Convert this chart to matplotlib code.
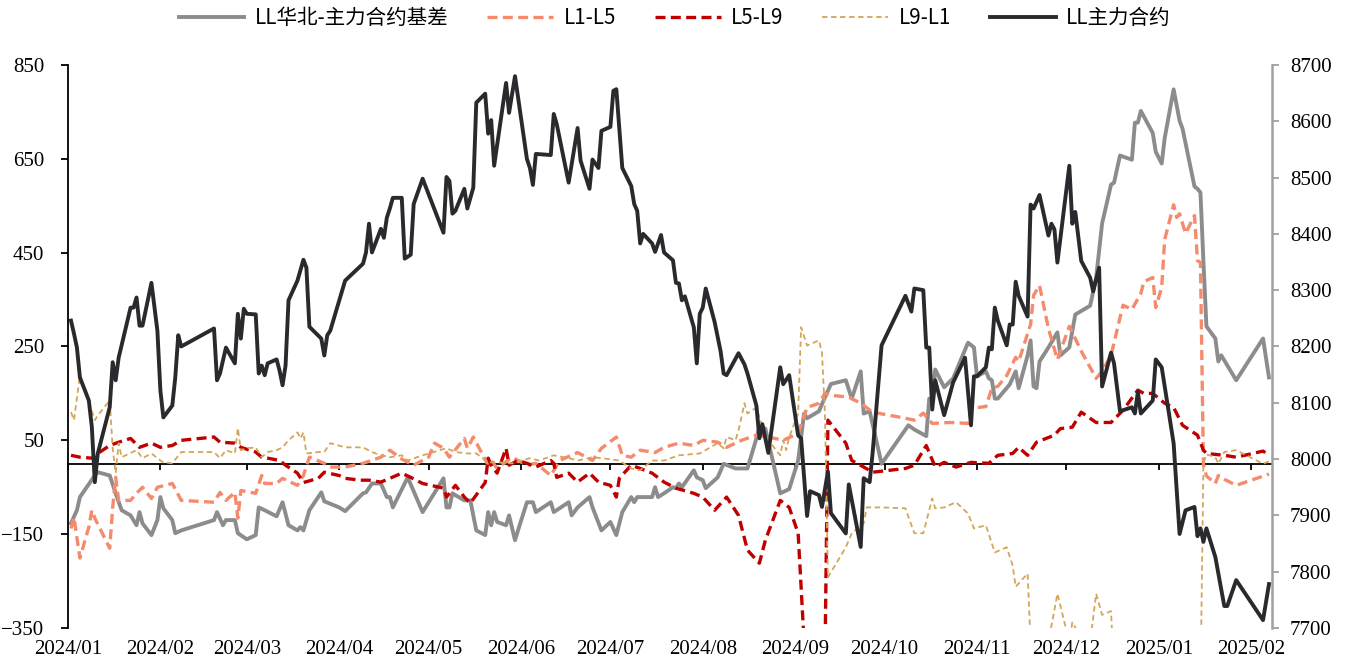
import matplotlib
matplotlib.use('Agg')
import matplotlib.pyplot as plt
import matplotlib.dates as mdates
import pandas as pd

# LL华北-主力合约基差 (左轴)
basis_dates = [
    '2024-01-02', '2024-01-04', '2024-01-05', '2024-01-10', '2024-01-11', '2024-01-15', '2024-01-17',
    '2024-01-19', '2024-01-22', '2024-01-24', '2024-01-25', '2024-01-26', '2024-01-29', '2024-01-31',
    '2024-02-01', '2024-02-02', '2024-02-05', '2024-02-06', '2024-02-08', '2024-02-19', '2024-02-20',
    '2024-02-22', '2024-02-23', '2024-02-26', '2024-02-27', '2024-03-01', '2024-03-04', '2024-03-05',
    '2024-03-07', '2024-03-11', '2024-03-13', '2024-03-15', '2024-03-18', '2024-03-19', '2024-03-20',
    '2024-03-22', '2024-03-26', '2024-03-27', '2024-04-01', '2024-04-03', '2024-04-09', '2024-04-10',
    '2024-04-12', '2024-04-15', '2024-04-17', '2024-04-18', '2024-04-19', '2024-04-24', '2024-04-29',
    '2024-05-06', '2024-05-07', '2024-05-08', '2024-05-09', '2024-05-10', '2024-05-13', '2024-05-15',
    '2024-05-17', '2024-05-20', '2024-05-21', '2024-05-22', '2024-05-23', '2024-05-24', '2024-05-27',
    '2024-05-28', '2024-05-30', '2024-05-31', '2024-06-03', '2024-06-05', '2024-06-06', '2024-06-11',
    '2024-06-12', '2024-06-17', '2024-06-18', '2024-06-20', '2024-06-24', '2024-06-25', '2024-06-28',
    '2024-07-01', '2024-07-03', '2024-07-05', '2024-07-08', '2024-07-09', '2024-07-10', '2024-07-15',
    '2024-07-16', '2024-07-17', '2024-07-19', '2024-07-22', '2024-07-23', '2024-07-24', '2024-07-25',
    '2024-07-29', '2024-07-30', '2024-08-01', '2024-08-02', '2024-08-06', '2024-08-08', '2024-08-12',
    '2024-08-16', '2024-08-19', '2024-08-20', '2024-08-22', '2024-08-27', '2024-08-30', '2024-09-02',
    '2024-09-04', '2024-09-05', '2024-09-09', '2024-09-10', '2024-09-13', '2024-09-18', '2024-09-20',
    '2024-09-23', '2024-09-24', '2024-09-26', '2024-09-30', '2024-10-09', '2024-10-11', '2024-10-15',
    '2024-10-16', '2024-10-17', '2024-10-18', '2024-10-21', '2024-10-24', '2024-10-29', '2024-10-31',
    '2024-11-01', '2024-11-04', '2024-11-05', '2024-11-06', '2024-11-07', '2024-11-08', '2024-11-12',
    '2024-11-14', '2024-11-15', '2024-11-18', '2024-11-19', '2024-11-20', '2024-11-21', '2024-11-22',
    '2024-11-25', '2024-11-28', '2024-11-29', '2024-12-02', '2024-12-04', '2024-12-09', '2024-12-11',
    '2024-12-13', '2024-12-16', '2024-12-17', '2024-12-19', '2024-12-23', '2024-12-24', '2024-12-25',
    '2024-12-26', '2024-12-30', '2024-12-31', '2025-01-02', '2025-01-03', '2025-01-06', '2025-01-08',
    '2025-01-09', '2025-01-13', '2025-01-14', '2025-01-15', '2025-01-16', '2025-01-17', '2025-01-20',
    '2025-01-21', '2025-01-22', '2025-01-27', '2025-02-05', '2025-02-07']
basis_vals = [
    -127, -99, -71, -25, -18, -25, -63, -99, -110, -131, -103, -127, -152, -120,
    -71, -95, -120, -148, -142, -120, -103, -131, -120, -120, -148, -161, -152, -93,
    -99, -112, -82, -131, -142, -135, -142, -99, -61, -80, -93, -101, -63, -61,
    -42, -42, -71, -71, -93, -29, -103, -31, -93, -93, -63, -67, -78, -78,
    -142, -152, -103, -131, -103, -124, -131, -110, -163, -142, -82, -82, -103, -82,
    -103, -82, -110, -93, -71, -93, -142, -124, -152, -103, -71, -82, -71, -71,
    -50, -71, -63, -50, -52, -42, -50, -14, -29, -35, -52, -29, 0, -10,
    -10, 54, 78, 75, -63, -54, 7, 107, 97, 112, 127, 170, 178, 139,
    197, 107, 112, 0, 82, 73, 59, 139, 135, 201, 163, 182, 258, 248,
    186, 197, 182, 178, 139, 139, 169, 197, 161, 231, 263, 165, 161, 218,
    248, 280, 231, 248, 318, 337, 397, 512, 595, 599, 657, 648, 727, 727,
    752, 705, 665, 640, 694, 798, 731, 714, 591, 586, 578, 431, 293, 267,
    218, 231, 178, 267, 184]

# L1-L5 (左轴)
l15_dates = [
    '2024-01-02', '2024-01-03', '2024-01-05', '2024-01-08', '2024-01-09', '2024-01-10', '2024-01-15',
    '2024-01-16', '2024-01-17', '2024-01-18', '2024-01-22', '2024-01-24', '2024-01-26', '2024-01-29',
    '2024-01-31', '2024-02-05', '2024-02-08', '2024-02-19', '2024-02-21', '2024-02-23', '2024-02-26',
    '2024-02-27', '2024-02-28', '2024-03-04', '2024-03-06', '2024-03-07', '2024-03-11', '2024-03-13',
    '2024-03-18', '2024-03-20', '2024-03-22', '2024-03-27', '2024-03-29', '2024-04-03', '2024-04-09',
    '2024-04-15', '2024-04-18', '2024-04-22', '2024-04-26', '2024-05-01', '2024-05-03', '2024-05-06',
    '2024-05-08', '2024-05-13', '2024-05-14', '2024-05-16', '2024-05-21', '2024-05-22', '2024-05-24',
    '2024-05-29', '2024-06-03', '2024-06-06', '2024-06-11', '2024-06-14', '2024-06-20', '2024-06-25',
    '2024-06-28', '2024-07-03', '2024-07-05', '2024-07-08', '2024-07-11', '2024-07-16', '2024-07-19',
    '2024-07-24', '2024-07-29', '2024-08-01', '2024-08-06', '2024-08-09', '2024-08-14', '2024-08-19',
    '2024-08-23', '2024-08-28', '2024-09-02', '2024-09-05', '2024-09-09', '2024-09-11', '2024-09-13',
    '2024-09-19', '2024-09-23', '2024-09-27', '2024-10-08', '2024-10-11', '2024-10-14', '2024-10-17',
    '2024-10-23', '2024-10-29', '2024-10-30', '2024-11-04', '2024-11-06', '2024-11-08', '2024-11-11',
    '2024-11-14', '2024-11-15', '2024-11-19', '2024-11-20', '2024-11-22', '2024-11-25', '2024-11-28',
    '2024-12-02', '2024-12-03', '2024-12-06', '2024-12-11', '2024-12-13', '2024-12-16', '2024-12-20',
    '2024-12-23', '2024-12-26', '2024-12-27', '2024-12-30', '2024-12-31', '2025-01-02', '2025-01-03',
    '2025-01-06', '2025-01-07', '2025-01-08', '2025-01-10', '2025-01-13', '2025-01-14', '2025-01-15',
    '2025-01-16', '2025-01-17', '2025-01-20', '2025-01-21', '2025-01-23', '2025-01-27', '2025-02-07']
l15_vals = [
    -138, -114, -201, -135, -99, -116, -180, -93, -29, -78, -78, -63, -50, -74,
    -50, -42, -78, -82, -61, -78, -61, -116, -57, -63, -25, -42, -42, -31,
    -46, -25, 14, 1, -7, -7, 1, 14, 29, 10, -3, 14, 44, 33,
    14, 54, 33, 57, -3, 7, -10, 14, -3, 1, -25, 7, 24, 7,
    33, 57, 18, 14, 29, 24, 35, 44, 39, 50, 46, 35, 50, 61,
    57, 50, 65, 120, 129, 150, 146, 142, 129, 110, 97, 93, 108, 86,
    88, 86, 118, 122, 161, 165, 188, 227, 218, 297, 359, 380, 288, 222,
    293, 280, 240, 182, 197, 231, 338, 329, 363, 388, 397, 333, 376, 478,
    552, 525, 533, 491, 529, 433, 429, -1, -26, -42, -25, -33, -46, -22]

# L5-L9 (左轴)
l59_dates = [
    '2024-01-02', '2024-01-05', '2024-01-09', '2024-01-11', '2024-01-15', '2024-01-18', '2024-01-22',
    '2024-01-25', '2024-01-29', '2024-02-01', '2024-02-05', '2024-02-08', '2024-02-19', '2024-02-21',
    '2024-02-26', '2024-02-28', '2024-03-04', '2024-03-06', '2024-03-08', '2024-03-12', '2024-03-14',
    '2024-03-18', '2024-03-20', '2024-03-25', '2024-03-27', '2024-04-01', '2024-04-03', '2024-04-08',
    '2024-04-11', '2024-04-15', '2024-04-18', '2024-04-22', '2024-04-25', '2024-04-29', '2024-05-06',
    '2024-05-07', '2024-05-10', '2024-05-13', '2024-05-15', '2024-05-20', '2024-05-21', '2024-05-22',
    '2024-05-24', '2024-05-27', '2024-05-28', '2024-05-31', '2024-06-03', '2024-06-06', '2024-06-11',
    '2024-06-12', '2024-06-13', '2024-06-17', '2024-06-20', '2024-06-24', '2024-06-27', '2024-07-01',
    '2024-07-03', '2024-07-04', '2024-07-08', '2024-07-11', '2024-07-15', '2024-07-19', '2024-07-23',
    '2024-07-29', '2024-08-01', '2024-08-05', '2024-08-09', '2024-08-13', '2024-08-16', '2024-08-20',
    '2024-08-22', '2024-08-27', '2024-08-30', '2024-09-02', '2024-09-03', '2024-09-04', '2024-09-05',
    '2024-09-09', '2024-09-11', '2024-09-12', '2024-09-18', '2024-09-20', '2024-09-24', '2024-09-27',
    '2024-10-08', '2024-10-11', '2024-10-15', '2024-10-18', '2024-10-21', '2024-10-25', '2024-10-30',
    '2024-11-05', '2024-11-08', '2024-11-13', '2024-11-15', '2024-11-18', '2024-11-21', '2024-11-27',
    '2024-11-29', '2024-12-03', '2024-12-06', '2024-12-11', '2024-12-16', '2024-12-20', '2024-12-25',
    '2024-12-27', '2024-12-30', '2025-01-03', '2025-01-06', '2025-01-09', '2025-01-14', '2025-01-16',
    '2025-01-17', '2025-01-23', '2025-01-27', '2025-02-05', '2025-02-07']
l59_vals = [
    18, 14, 12, 22, 39, 46, 54, 35, 44, 35, 39, 50, 57, 46,
    44, 35, 25, 14, 12, 7, -3, -20, -40, -31, -18, -25, -31, -35,
    -35, -39, -31, -20, -29, -42, -52, -71, -46, -71, -84, -40, 12, -3,
    -20, 33, -3, 7, 1, -7, 7, 1, -29, -20, -39, -20, -39, -46,
    -71, -31, -3, -10, -20, -39, -52, -63, -71, -99, -71, -110, -184, -212,
    -163, -78, -93, -148, -263, -380, -520, -520, -420, 93, 44, 7, -7, -18,
    -10, -3, 39, -7, 3, -7, 3, 1, 18, 22, 35, 18, 46, 61,
    75, 78, 110, 88, 88, 114, 157, 150, 150, 129, 120, 82, 61, 29,
    22, 18, 14, 27, 18]

# L9-L1 (左轴)
l91_dates = [
    '2024-01-02', '2024-01-03', '2024-01-05', '2024-01-08', '2024-01-10', '2024-01-11', '2024-01-15',
    '2024-01-16', '2024-01-17', '2024-01-18', '2024-01-19', '2024-01-24', '2024-01-26', '2024-01-29',
    '2024-02-01', '2024-02-02', '2024-02-05', '2024-02-08', '2024-02-19', '2024-02-21', '2024-02-23',
    '2024-02-26', '2024-02-27', '2024-02-28', '2024-03-01', '2024-03-04', '2024-03-06', '2024-03-08',
    '2024-03-11', '2024-03-13', '2024-03-15', '2024-03-18', '2024-03-19', '2024-03-20', '2024-03-21',
    '2024-03-25', '2024-03-27', '2024-03-29', '2024-04-03', '2024-04-09', '2024-04-12', '2024-04-15',
    '2024-04-18', '2024-04-22', '2024-04-24', '2024-04-29', '2024-05-07', '2024-05-10', '2024-05-14',
    '2024-05-17', '2024-05-21', '2024-05-24', '2024-05-29', '2024-06-04', '2024-06-07', '2024-06-12',
    '2024-06-17', '2024-06-20', '2024-06-25', '2024-06-28', '2024-07-04', '2024-07-08', '2024-07-11',
    '2024-07-15', '2024-07-19', '2024-07-24', '2024-07-31', '2024-08-06', '2024-08-08', '2024-08-09',
    '2024-08-12', '2024-08-13', '2024-08-15', '2024-08-16', '2024-08-19', '2024-08-21', '2024-08-23',
    '2024-08-27', '2024-08-28', '2024-08-29', '2024-08-30', '2024-09-02', '2024-09-03', '2024-09-05',
    '2024-09-09', '2024-09-10', '2024-09-11', '2024-09-12', '2024-09-18', '2024-09-20', '2024-09-24',
    '2024-09-25', '2024-09-30', '2024-10-08', '2024-10-11', '2024-10-14', '2024-10-17', '2024-10-18',
    '2024-10-21', '2024-10-25', '2024-10-29', '2024-10-31', '2024-11-04', '2024-11-07', '2024-11-11',
    '2024-11-13', '2024-11-14', '2024-11-18', '2024-11-19', '2024-11-21', '2024-11-25', '2024-11-28',
    '2024-12-02', '2024-12-03', '2024-12-05', '2024-12-09', '2024-12-11', '2024-12-13', '2024-12-16',
    '2024-12-17', '2024-12-18', '2024-12-31', '2025-01-15', '2025-01-16', '2025-01-17', '2025-01-20',
    '2025-01-21', '2025-01-23', '2025-01-27', '2025-02-05', '2025-02-07']
l91_vals = [
    110, 93, 188, 131, 93, 103, 135, 33, -20, 44, 14, 29, 12, 22,
    7, 3, 1, 25, 25, 12, 29, 22, 76, 29, 33, 35, 14, 25,
    29, 35, 50, 67, 54, 67, 22, 25, 25, 44, 35, 35, 25, 18,
    14, 18, 7, 18, 33, 25, 22, 22, 3, 3, 1, 12, 7, 18,
    12, 7, 14, 12, 7, -10, -14, 7, 7, 18, 22, 44, 33, 57,
    50, 71, 129, 107, 120, 78, 50, 18, 50, 29, 57, 107, 291, 252,
    263, 237, 107, -242, -178, -148, -127, -93, -93, -95, -148, -148, -74, -95,
    -93, -82, -106, -138, -131, -189, -178, -217, -262, -234, -380, -400, -380, -277,
    -380, -338, -360, -380, -277, -322, -314, -450, -500, -520, -480, 0, 20, 14,
    0, 25, 29, 0, 5]

# LL主力合约 (右轴)
main_dates = [
    '2024-01-02', '2024-01-03', '2024-01-04', '2024-01-05', '2024-01-08', '2024-01-09', '2024-01-10',
    '2024-01-11', '2024-01-15', '2024-01-16', '2024-01-17', '2024-01-18', '2024-01-22', '2024-01-23',
    '2024-01-24', '2024-01-25', '2024-01-26', '2024-01-29', '2024-01-31', '2024-02-01', '2024-02-02',
    '2024-02-05', '2024-02-06', '2024-02-07', '2024-02-08', '2024-02-19', '2024-02-20', '2024-02-21',
    '2024-02-23', '2024-02-26', '2024-02-27', '2024-02-28', '2024-02-29', '2024-03-01', '2024-03-04',
    '2024-03-05', '2024-03-06', '2024-03-07', '2024-03-08', '2024-03-11', '2024-03-12', '2024-03-13',
    '2024-03-14', '2024-03-15', '2024-03-18', '2024-03-20', '2024-03-21', '2024-03-22', '2024-03-26',
    '2024-03-27', '2024-03-28', '2024-03-29', '2024-04-03', '2024-04-09', '2024-04-10', '2024-04-11',
    '2024-04-12', '2024-04-15', '2024-04-16', '2024-04-17', '2024-04-18', '2024-04-19', '2024-04-22',
    '2024-04-23', '2024-04-25', '2024-04-26', '2024-04-29', '2024-05-06', '2024-05-07', '2024-05-08',
    '2024-05-09', '2024-05-10', '2024-05-13', '2024-05-14', '2024-05-16', '2024-05-17', '2024-05-20',
    '2024-05-21', '2024-05-22', '2024-05-23', '2024-05-27', '2024-05-28', '2024-05-30', '2024-06-03',
    '2024-06-04', '2024-06-05', '2024-06-06', '2024-06-11', '2024-06-12', '2024-06-13', '2024-06-17',
    '2024-06-20', '2024-06-21', '2024-06-24', '2024-06-25', '2024-06-27', '2024-06-28', '2024-07-01',
    '2024-07-02', '2024-07-03', '2024-07-05', '2024-07-08', '2024-07-09', '2024-07-10', '2024-07-11',
    '2024-07-12', '2024-07-15', '2024-07-16', '2024-07-18', '2024-07-19', '2024-07-22', '2024-07-23',
    '2024-07-24', '2024-07-25', '2024-07-26', '2024-07-29', '2024-07-30', '2024-07-31', '2024-08-01',
    '2024-08-02', '2024-08-05', '2024-08-07', '2024-08-08', '2024-08-09', '2024-08-13', '2024-08-15',
    '2024-08-16', '2024-08-19', '2024-08-20', '2024-08-21', '2024-08-23', '2024-08-27', '2024-08-28',
    '2024-08-30', '2024-09-02', '2024-09-03', '2024-09-05', '2024-09-06', '2024-09-09', '2024-09-10',
    '2024-09-12', '2024-09-13', '2024-09-18', '2024-09-19', '2024-09-23', '2024-09-24', '2024-09-26',
    '2024-09-27', '2024-09-30', '2024-10-08', '2024-10-10', '2024-10-11', '2024-10-14', '2024-10-15',
    '2024-10-16', '2024-10-17', '2024-10-18', '2024-10-21', '2024-10-24', '2024-10-28', '2024-10-30',
    '2024-10-31', '2024-11-01', '2024-11-04', '2024-11-05', '2024-11-06', '2024-11-07', '2024-11-08',
    '2024-11-11', '2024-11-12', '2024-11-13', '2024-11-14', '2024-11-15', '2024-11-18', '2024-11-19',
    '2024-11-20', '2024-11-22', '2024-11-25', '2024-11-26', '2024-11-27', '2024-11-28', '2024-12-02',
    '2024-12-03', '2024-12-04', '2024-12-06', '2024-12-09', '2024-12-10', '2024-12-12', '2024-12-13',
    '2024-12-16', '2024-12-17', '2024-12-19', '2024-12-23', '2024-12-24', '2024-12-25', '2024-12-26',
    '2024-12-30', '2024-12-31', '2025-01-02', '2025-01-06', '2025-01-08', '2025-01-10', '2025-01-13',
    '2025-01-14', '2025-01-15', '2025-01-16', '2025-01-17', '2025-01-20', '2025-01-23', '2025-01-24',
    '2025-01-27', '2025-02-05', '2025-02-07']
main_vals = [
    8246, 8223, 8198, 8145, 8104, 8057, 7959, 8010, 8092, 8172, 8140, 8180, 8269, 8269,
    8287, 8237, 8237, 8313, 8228, 8122, 8074, 8095, 8145, 8220, 8200, 8232, 8140, 8152,
    8198, 8170, 8258, 8214, 8267, 8258, 8257, 8152, 8166, 8149, 8170, 8177, 8157, 8131,
    8166, 8282, 8317, 8354, 8340, 8235, 8214, 8184, 8220, 8228, 8317, 8347, 8367, 8418,
    8367, 8409, 8393, 8429, 8445, 8464, 8464, 8356, 8363, 8453, 8498, 8402, 8501, 8494,
    8436, 8441, 8480, 8445, 8482, 8633, 8649, 8578, 8602, 8521, 8668, 8615, 8680, 8533,
    8517, 8487, 8542, 8540, 8613, 8595, 8491, 8588, 8530, 8480, 8532, 8517, 8583, 8590,
    8654, 8657, 8517, 8485, 8453, 8441, 8383, 8400, 8383, 8368, 8398, 8367, 8353, 8313,
    8312, 8282, 8289, 8234, 8170, 8258, 8269, 8303, 8243, 8191, 8152, 8149, 8188, 8168,
    8152, 8095, 8037, 8062, 8011, 8163, 8133, 8149, 8042, 8037, 7899, 7943, 7936, 7915,
    7978, 7904, 7868, 7955, 7844, 7966, 7959, 8011, 8202, 8290, 8262, 8303, 8300, 8198,
    8198, 8088, 8140, 8078, 8136, 8180, 8060, 8147, 8147, 8163, 8198, 8195, 8269, 8246,
    8202, 8239, 8239, 8315, 8290, 8253, 8452, 8445, 8469, 8397, 8418, 8408, 8349, 8521,
    8418, 8439, 8352, 8322, 8298, 8340, 8129, 8189, 8170, 8085, 8092, 8081, 8119, 8081,
    8104, 8177, 8163, 8028, 7867, 7909, 7915, 7863, 7877, 7853, 7877, 7826, 7739, 7739,
    7785, 7714, 7778]

left_ticks = [-350, -150, 50, 250, 450, 650, 850]
right_ticks = [7700, 7800, 7900, 8000, 8100, 8200, 8300, 8400, 8500, 8600, 8700]

tick_font = 'Liberation Serif'
legend_font = ['Noto Sans CJK SC', 'DejaVu Sans']

fig = plt.figure(figsize=(13.49, 6.69), dpi=100)
ax = fig.add_axes([0.0504, 0.0613, 0.8925, 0.8416])

l1, = ax.plot(pd.to_datetime(basis_dates), basis_vals, color='#8c8c8c', lw=2.8,
              label='LL华北-主力合约基差')
l2, = ax.plot(pd.to_datetime(l15_dates), l15_vals, color='#f58a6c', lw=2.4,
              dashes=(3, 1.6), label='L1-L5')
l3, = ax.plot(pd.to_datetime(l59_dates), l59_vals, color='#c00000', lw=2.4,
              dashes=(3, 1.6), label='L5-L9')
l4, = ax.plot(pd.to_datetime(l91_dates), l91_vals, color='#d4a55a', lw=1.3,
              dashes=(3, 2), label='L9-L1')

ax2 = ax.twinx()
l5, = ax2.plot(pd.to_datetime(main_dates), main_vals, color='#2a2a2e', lw=2.8,
               label='LL主力合约')

ax.set_xlim(pd.Timestamp('2024-01-01'), pd.Timestamp('2025-02-08'))
ax.set_ylim(-350, 850)
ax.set_yticks(left_ticks)
ax2.set_ylim(7700, 8700)
ax2.set_yticks(right_ticks)

ax.xaxis.set_major_locator(mdates.MonthLocator())
ax.xaxis.set_major_formatter(mdates.DateFormatter('%Y/%m'))
ax.tick_params(axis='x', length=0, pad=9, labelsize=15)
ax.tick_params(axis='y', direction='out', length=5, width=1.3, pad=12, labelsize=15)
ax2.tick_params(axis='y', direction='out', length=5, width=1.3, color='#a0a0a0',
                pad=8, labelsize=15)
for lab in ax.get_xticklabels() + ax.get_yticklabels() + ax2.get_yticklabels():
    lab.set_fontfamily(tick_font)

for s in ['top', 'right', 'bottom']:
    ax.spines[s].set_visible(False)
ax.spines['left'].set_linewidth(1.3)
for s in ['top', 'left', 'bottom']:
    ax2.spines[s].set_visible(False)
ax2.spines['right'].set_color('#a0a0a0')
ax2.spines['right'].set_linewidth(1.8)

# x axis line crossing at zero, ticks only
zero_axis = ax.secondary_xaxis(350 / 1200)
zero_axis.xaxis.set_major_locator(mdates.MonthLocator())
zero_axis.tick_params(axis='x', direction='out', length=4.5, width=1.3,
                      labelbottom=False, labeltop=False)
zero_axis.spines['bottom'].set_linewidth(1.3)
zero_axis.spines['top'].set_visible(False)

fig.legend(handles=[l1, l2, l3, l4, l5], loc='center', bbox_to_anchor=(0.5, 0.973),
           ncol=5, frameon=False, handlelength=3.2, handletextpad=0.5,
           columnspacing=1.9, prop={'family': legend_font, 'size': 14.8})

fig.savefig('out.png', dpi=100)
